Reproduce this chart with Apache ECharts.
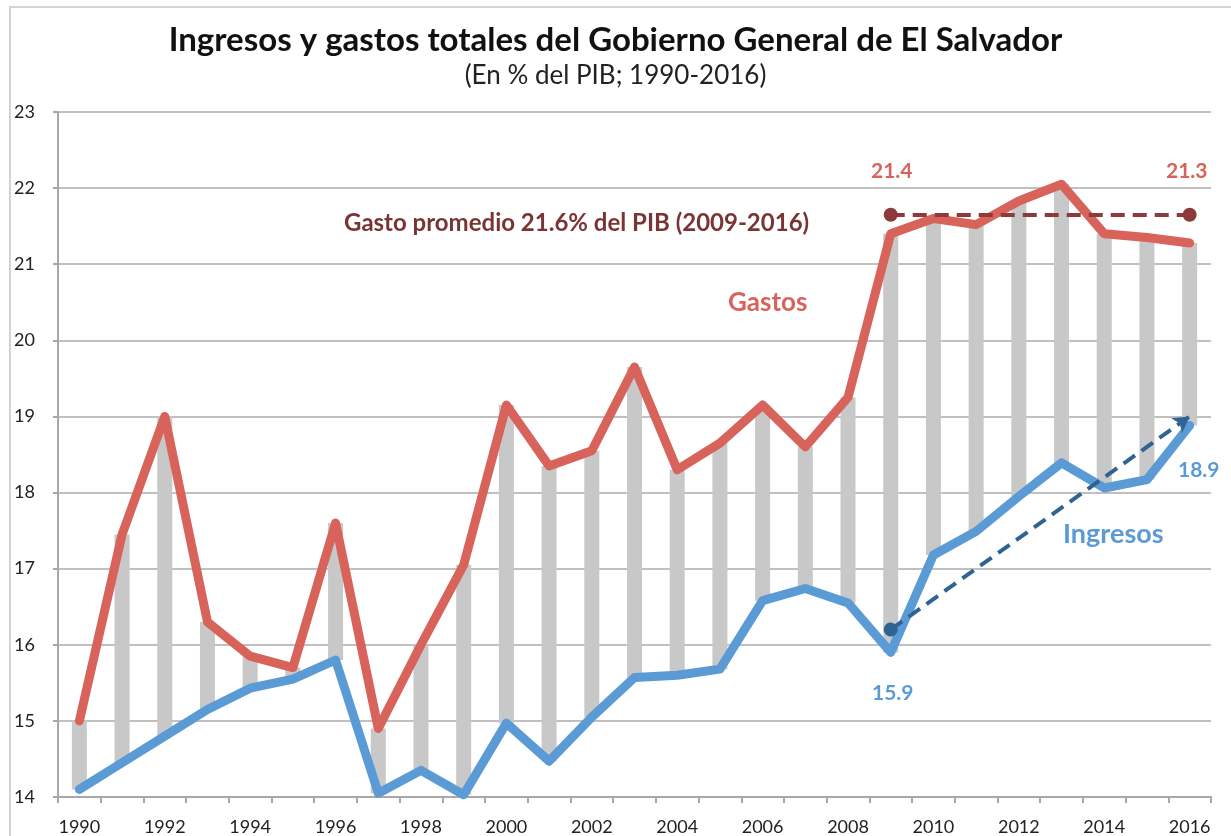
<!DOCTYPE html>
<html>
<head>
<meta charset="utf-8">
<script src="https://cdn.jsdelivr.net/npm/echarts@6/dist/echarts.min.js"></script>
<style>
  html, body { margin: 0; padding: 0; background: #fff; }
  #chart { width: 1231px; height: 836px; }
</style>
</head>
<body>
<div id="chart"></div>
<script>
// datos
var anios = ['1990','1991','1992','1993','1994','1995','1996','1997','1998','1999',
             '2000','2001','2002','2003','2004','2005','2006','2007','2008','2009',
             '2010','2011','2012','2013','2014','2015','2016'];
var gastos = [15.0, 17.45, 19.0, 16.3, 15.85, 15.7, 17.6, 14.9, 16.0, 17.05,
              19.15, 18.35, 18.55, 19.65, 18.3, 18.65, 19.15, 18.6, 19.25, 21.4,
              21.6, 21.52, 21.83, 22.05, 21.4, 21.35, 21.28];
var ingresos = [14.1, 14.45, 14.8, 15.15, 15.43, 15.55, 15.8, 14.05, 14.35, 14.03,
                14.97, 14.47, 15.05, 15.57, 15.6, 15.68, 16.58, 16.74, 16.55, 15.9,
                17.18, 17.49, 17.95, 18.39, 18.06, 18.17, 18.88];
var promedioGasto = 21.65;        // linea punteada 2009-2016
var tendenciaIngresos = [16.2, 19.0]; // flecha 2009 -> 2016
var yTicks = [14, 23, 1];

var rojo = '#d8635b', azul = '#5b9bd5', gris = '#c8c8c8';

var diferencia = gastos.map(function (g, i) { return +(g - ingresos[i]).toFixed(2); });

var myChart = echarts.init(document.getElementById('chart'));

myChart.setOption({
    animation: false,
    textStyle: { fontFamily: 'Lato' },
    title: {
        text: 'Ingresos y gastos totales del Gobierno General de El Salvador',
        subtext: '(En % del PIB; 1990-2016)',
        left: 'center',
        top: 19,
        itemGap: 6,
        textStyle: { fontFamily: 'Lato', fontSize: 33, fontWeight: 'bold', color: '#111' },
        subtextStyle: { fontFamily: 'Lato', fontSize: 26, color: '#222' }
    },
    grid: { left: 58, right: 20, top: 112, bottom: 39 },
    xAxis: {
        type: 'category',
        data: anios,
        boundaryGap: true,
        axisLine: { lineStyle: { color: '#a8a8a8', width: 2 } },
        axisTick: { show: true, interval: 0, length: 6, lineStyle: { color: '#a8a8a8', width: 2 } },
        axisLabel: { interval: 1, margin: 21, fontSize: 18, color: '#222' }
    },
    yAxis: {
        type: 'value',
        min: yTicks[0],
        max: yTicks[1],
        interval: yTicks[2],
        axisLine: { show: true, lineStyle: { color: '#a8a8a8', width: 2 } },
        axisTick: { show: true, length: 5, lineStyle: { color: '#a8a8a8', width: 2 } },
        axisLabel: { margin: 23, fontSize: 18, color: '#222' },
        splitLine: { lineStyle: { color: '#c0c0c0', width: 2 } }
    },
    graphic: [
        { type: 'rect', silent: true, shape: { x: 10, y: 7, width: 1260, height: 900 },
          style: { fill: 'none', stroke: '#d4d4d4', lineWidth: 2 } },
        { type: 'text', left: 344, top: 211, style: { text: 'Gasto promedio 21.6% del PIB (2009-2016)',
          fill: '#7b3434', font: 'bold 24px Lato' } },
        { type: 'text', left: 728, top: 290, style: { text: 'Gastos', fill: rojo, font: 'bold 26px Lato' } },
        { type: 'text', left: 1063, top: 521, style: { text: 'Ingresos', fill: azul, font: 'bold 27px Lato' } },
        { type: 'text', left: 871, top: 161, style: { text: '21.4', fill: rojo, font: 'bold 21px Lato' } },
        { type: 'text', left: 1166, top: 161, style: { text: '21.3', fill: rojo, font: 'bold 21px Lato' } },
        { type: 'text', left: 872, top: 683, style: { text: '15.9', fill: azul, font: 'bold 21px Lato' } },
        { type: 'text', left: 1178, top: 460, style: { text: '18.9', fill: azul, font: 'bold 21px Lato' } }
    ],
    series: [
        {
            name: 'base',
            type: 'bar',
            stack: 'rango',
            data: ingresos,
            barWidth: 15,
            silent: true,
            itemStyle: { color: 'transparent' }
        },
        {
            name: 'rango',
            type: 'bar',
            stack: 'rango',
            data: diferencia,
            barWidth: 15,
            itemStyle: { color: gris }
        },
        {
            name: 'Gastos',
            type: 'line',
            data: gastos,
            symbol: 'none',
            z: 3,
            lineStyle: { color: rojo, width: 9, join: 'round', cap: 'round' },
            markLine: {
                silent: true,
                symbol: ['circle', 'circle'],
                symbolSize: 14,
                label: { show: false },
                lineStyle: { color: '#8e3a3a', width: 4, type: [14, 8] },
                data: [[{ xAxis: '2009', yAxis: promedioGasto }, { xAxis: '2016', yAxis: promedioGasto }]]
            }
        },
        {
            name: 'Ingresos',
            type: 'line',
            data: ingresos,
            symbol: 'none',
            z: 3,
            lineStyle: { color: azul, width: 9, join: 'round', cap: 'round' },
            markLine: {
                silent: true,
                symbol: ['circle', 'arrow'],
                symbolSize: [14, 16],
                label: { show: false },
                lineStyle: { color: '#2f6393', width: 4, type: [14, 8] },
                data: [[{ xAxis: '2009', yAxis: tendenciaIngresos[0] }, { xAxis: '2016', yAxis: tendenciaIngresos[1] }]]
            }
        }
    ]
});
</script>
</body>
</html>
